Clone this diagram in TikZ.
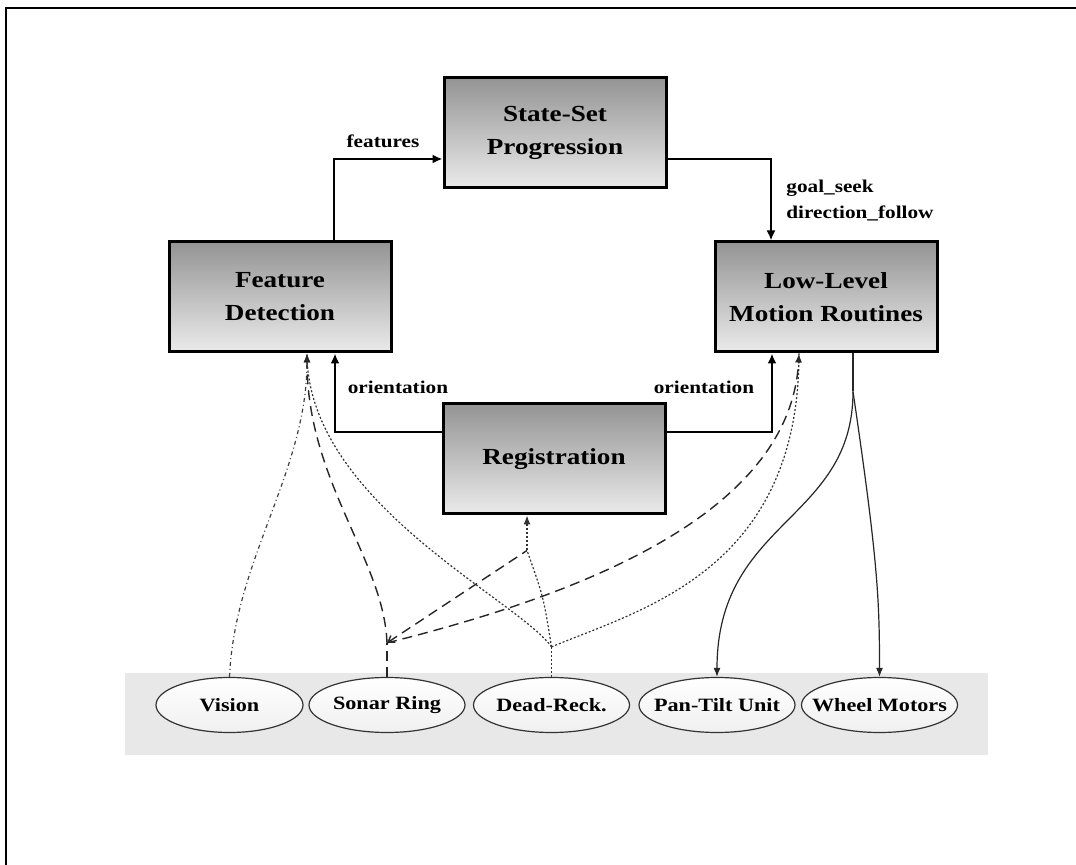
\documentclass[tikz,border=0pt]{standalone}
\usepackage{fontspec}
\setmainfont{Liberation Serif}[FakeStretch=1.18]
\usetikzlibrary{arrows.meta,calc,shapes.geometric}

\tikzset{
  stagebox/.style={draw,line width=1.5pt,rectangle,top color=black!42,bottom color=black!8,
    minimum width=111pt,minimum height=55pt,align=center,font=\fontsize{11.5}{16.5}\selectfont\bfseries},
  unitoval/.style={draw=black!80,line width=0.6pt,ellipse,top color=white,bottom color=black!6,
    minimum width=78pt,minimum height=27.5pt,inner xsep=-14pt,inner ysep=0pt,font=\fontsize{9.4}{11}\selectfont\bfseries},
  flowarr/.style={line width=1.1pt,-{Latex[length=5pt,width=4.5pt]}},
  thintip/.style={-{Latex[length=4.5pt,width=3.5pt]}},
  edgetxt/.style={font=\fontsize{9}{13}\selectfont\bfseries,inner sep=0pt},
  visionln/.style={black!75,line width=0.6pt,dash pattern=on 2pt off 1.5pt on 0.5pt off 1.5pt},
  sonarln/.style={black!85,line width=0.7pt,dash pattern=on 5pt off 3pt},
  deadln/.style={black!80,line width=0.6pt,dash pattern=on 1pt off 1pt},
  motorln/.style={black!85,line width=0.6pt}
}

\begin{document}
\begin{tikzpicture}[x=0.5pt,y=-0.5pt]
\useasboundingbox (0,0) rectangle (1076,865);
\draw[line width=0.8pt] (6,865) -- (6,8) -- (1076,8);
\fill[black!9] (125,673) rectangle (988,755);

\node[stagebox] (prog) at (555,133) {State-Set\\Progression};
\node[stagebox] (fd) at (280,297) {Feature\\Detection};
\node[stagebox] (ll) at (826,297) {Low-Level\\Motion Routines};
\node[stagebox] (reg) at (554,459) {Registration};

\node[unitoval,minimum width=73.5pt] (vision) at (229.5,705) {Vision};
\node[unitoval] (sonar) at (387,705) {Sonar Ring};
\node[unitoval] (dead) at (551.5,705) {Dead-Reck.};
\node[unitoval] (pan) at (717,705) {Pan-Tilt Unit};
\node[unitoval] (wheel) at (879.5,705) {Wheel Motors};

\draw[flowarr] ($(fd.north)+(54,0)$) |- ($(prog.west)+(0,26)$);
\draw[flowarr] ($(prog.east)+(0,26)$) -| ($(ll.north)+(-55,0)$);
\draw[flowarr] ($(reg.west)+(0,-27)$) -| ($(fd.south)+(55,0)$);
\draw[flowarr] ($(reg.east)+(0,-27)$) -| ($(ll.south)+(-54,0)$);

\node[edgetxt] (featlbl) at (383,141) {features};
\node[edgetxt,anchor=west,align=left] (goallbl) at (786,201) {goal\_seek\\direction\_follow};
\node[edgetxt] (orilbl) at (398,387) {orientation};
\node[edgetxt] (orirbl) at (704,387) {orientation};

\coordinate (js) at ($(sonar.north)+(0,-34)$);
\coordinate (jd) at ($(dead.north)+(0,-30)$);
\coordinate (jr) at ($(reg.south)+(-27,35)$);
\coordinate (jm) at ($(ll.south)+(27,38)$);

\draw[visionln,thintip] (vision.north) .. controls ($(vision.north)+(5,-117)$) and ($(fd.south)+(27,118)$) .. ($(fd.south)+(27,0)$);

\draw[sonarln] (sonar.north) -- (js);
\draw[sonarln,thintip] (js) .. controls ($(js)+(-3,-83)$) and ($(fd.south)+(27,128)$) .. ($(fd.south)+(27,0)$);
\draw[sonarln,{Straight Barb[length=3pt,width=4pt]}-] (js) -- (jr);
\draw[sonarln,thintip] (js) .. controls ($(js)+(172,-43)$) and ($(ll.south)+(-36,168)$) .. ($(ll.south)+(-27,0)$);

\draw[deadln] (dead.north) -- (jd);
\draw[deadln] (jd) .. controls ($(jd)+(-8,-50)$) .. (jr);
\draw[deadln,thintip] (jr) -- ($(reg.south)+(-27,0)$);
\draw[deadln] (jd) .. controls ($(jd)+(-33,-47)$) and ($(fd.south)+(27,148)$) .. ($(fd.south)+(27,0)$);
\draw[deadln] (jd) .. controls ($(jd)+(88,-37)$) and ($(ll.south)+(-27,218)$) .. ($(ll.south)+(-27,0)$);

\draw[motorln] ($(ll.south)+(27,0)$) -- (jm);
\draw[motorln,thintip] (jm) .. controls ($(jm)+(0,130)$) and ($(pan.north)+(0,-157)$) .. (pan.north);
\draw[motorln,thintip] (jm) .. controls ($(jm)+(25,170)$) and ($(wheel.north)+(0,-77)$) .. (wheel.north);
\end{tikzpicture}
\end{document}
